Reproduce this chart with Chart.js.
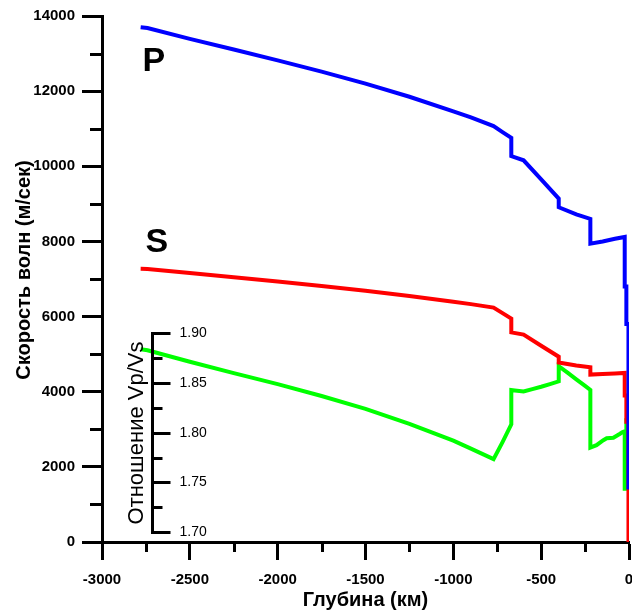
<!DOCTYPE html>
<html>
<head>
<meta charset="utf-8">
<script src="https://cdn.jsdelivr.net/npm/chart.js@4.4.0/dist/chart.umd.min.js"></script>
<style>
html,body{margin:0;padding:0;background:#fff;}
#wrap{width:632px;height:612px;position:relative;}
</style>
</head>
<body>
<div id="wrap"><canvas id="c"></canvas></div>
<script>
// ---- data ----
const depthKm = [-2780, -2741, -2500, -2250, -2000, -1750, -1500, -1250, -1000, -900, -771, -720, -670, -670, -600, -500, -400, -400, -300, -220, -220, -150, -80, -24.4, -24.4, -15, -15, -3, -3, 0];
const vpMs = [13700, 13680, 13390, 13110, 12820, 12520, 12200, 11850, 11460, 11300, 11070, 10910, 10760, 10270, 10160, 9650, 9140, 8910, 8720, 8600, 7940, 8000, 8070, 8120, 6800, 6800, 5800, 5800, 1450, 1450];
const vsMs = [7270, 7266, 7157, 7046, 6933, 6815, 6688, 6550, 6397, 6331, 6240, 6091, 5945, 5580, 5520, 5224, 4932, 4775, 4700, 4650, 4455, 4470, 4485, 4500, 3900, 3900, 3200, 3200, 0, 0];
const ratioDepthKm = [-2780, -2741, -2500, -2250, -2000, -1750, -1500, -1250, -1000, -900, -771, -720, -670, -670, -650, -600, -550, -500, -450, -400, -400, -350, -300, -250, -220, -220, -185, -146, -127, -89, -51, -36, -24.4, -24.4, -15, -15, -3];
const vpVsRatio = [1.884, 1.883, 1.8715, 1.860, 1.849, 1.837, 1.824, 1.809, 1.792, 1.784, 1.7734, 1.7906, 1.8084, 1.843, 1.8426, 1.8415, 1.8439, 1.8463, 1.849, 1.8518, 1.867, 1.8605, 1.8538, 1.8471, 1.843, 1.785, 1.7875, 1.7925, 1.7945, 1.795, 1.799, 1.8008, 1.8015, 1.7436, 1.7436, 1.8125, 1.8125];

const xTicks = [-3000, -2500, -2000, -1500, -1000, -500, 0];
const xMinorTicks = [-2750, -2250, -1750, -1250, -750, -250];
const yTicks = [0, 2000, 4000, 6000, 8000, 10000, 12000, 14000];
const yMinorTicks = [1000, 3000, 5000, 7000, 9000, 11000, 13000];
const ratioTicks = [1.70, 1.75, 1.80, 1.85, 1.90];
const ratioMinorTicks = [1.725, 1.775, 1.825, 1.875];
const ratioTickLabels = ['1.70', '1.75', '1.80', '1.85', '1.90'];

const xTitle = 'Глубина (км)';
const yTitle = 'Скорость волн (м/сек)';
const ratioTitle = 'Отношение Vp/Vs';
const waveLabels = [{text: 'P', x: -2770, y: 12540}, {text: 'S', x: -2752, y: 7730}];
const ratioAxisAt = -2713; // depth where the inner ratio axis stands

const FONT = "'Liberation Sans', Arial, sans-serif";

function pts(xs, ys) { return xs.map((x, i) => ({x: x, y: ys[i]})); }

const decorPlugin = {
  id: 'decor',
  afterDatasetsDraw(chart) {
    const {ctx, chartArea, scales} = chart;
    const xs = scales.x, ys = scales.y, rs = scales.ratio;
    const al = p => Math.round(p) + 0.5;
    ctx.save();
    ctx.strokeStyle = '#000';
    ctx.fillStyle = '#000';
    ctx.lineWidth = 3;
    ctx.lineCap = 'butt';
    // minor ticks of main axes
    yMinorTicks.forEach(v => {
      const p = al(ys.getPixelForValue(v));
      ctx.beginPath(); ctx.moveTo(chartArea.left - 12, p); ctx.lineTo(chartArea.left, p); ctx.stroke();
    });
    xMinorTicks.forEach(v => {
      const p = al(xs.getPixelForValue(v));
      ctx.beginPath(); ctx.moveTo(p, chartArea.bottom); ctx.lineTo(p, chartArea.bottom + 10); ctx.stroke();
    });
    // y axis title
    ctx.save();
    ctx.translate(24, ys.getPixelForValue(7240));
    ctx.rotate(-Math.PI / 2);
    ctx.textAlign = 'center';
    ctx.textBaseline = 'middle';
    ctx.font = "bold 20px " + FONT;
    ctx.fillText(yTitle, 0, 0);
    ctx.restore();
    // inner ratio axis
    const ax = al(xs.getPixelForValue(ratioAxisAt));
    const yTop = al(rs.getPixelForValue(ratioTicks[ratioTicks.length - 1]));
    const yBot = al(rs.getPixelForValue(ratioTicks[0]));
    ctx.beginPath(); ctx.moveTo(ax, yTop - 1.5); ctx.lineTo(ax, yBot + 1.5); ctx.stroke();
    ctx.font = "14px " + FONT;
    ctx.textAlign = 'left';
    ctx.textBaseline = 'middle';
    ratioTicks.forEach((v, i) => {
      const p = al(rs.getPixelForValue(v));
      ctx.beginPath(); ctx.moveTo(ax - 1.5, p); ctx.lineTo(ax + 18, p); ctx.stroke();
      ctx.fillText(ratioTickLabels[i], ax + 27, p);
    });
    ratioMinorTicks.forEach(v => {
      const p = al(rs.getPixelForValue(v));
      ctx.beginPath(); ctx.moveTo(ax - 1.5, p); ctx.lineTo(ax + 10, p); ctx.stroke();
    });
    ctx.save();
    ctx.translate(ax - 16, (yTop + yBot) / 2);
    ctx.rotate(-Math.PI / 2);
    ctx.textAlign = 'center';
    ctx.font = "22px " + FONT;
    ctx.fillText(ratioTitle, 0, 0);
    ctx.restore();
    // P and S labels
    ctx.font = "bold 34px " + FONT;
    ctx.textAlign = 'left';
    ctx.textBaseline = 'alphabetic';
    waveLabels.forEach(l => {
      ctx.fillText(l.text, xs.getPixelForValue(l.x), ys.getPixelForValue(l.y));
    });
    ctx.restore();
  }
};

const tickFont = {family: FONT, size: 15, weight: 'bold'};

new Chart(document.getElementById('c'), {
  type: 'line',
  data: {
    datasets: [
      {label: 'P', data: pts(depthKm, vpMs), borderColor: '#0000ff', yAxisID: 'y'},
      {label: 'S', data: pts(depthKm, vsMs), borderColor: '#ff0000', yAxisID: 'y'},
      {label: 'Vp/Vs', data: pts(ratioDepthKm, vpVsRatio), borderColor: '#00ff00', yAxisID: 'ratio'}
    ]
  },
  options: {
    responsive: true,
    maintainAspectRatio: false,
    animation: false,
    events: [],
    layout: {padding: {top: 15, right: 3, bottom: 0, left: 0}},
    elements: {
      line: {borderWidth: 4, tension: 0, fill: false, borderJoinStyle: 'miter', borderCapStyle: 'butt'},
      point: {radius: 0}
    },
    plugins: {legend: {display: false}, title: {display: false}, tooltip: {enabled: false}},
    scales: {
      x: {
        type: 'linear', position: 'bottom', min: -3000, max: 0,
        afterBuildTicks: s => { s.ticks = xTicks.map(v => ({value: v})); },
        afterFit: s => { s.height = 70; s.paddingLeft = 0; s.paddingRight = 0; },
        ticks: {font: tickFont, color: '#000', padding: 11, maxRotation: 0, autoSkip: false, callback: v => String(v)},
        grid: {drawOnChartArea: false, drawTicks: true, tickLength: 18, tickWidth: 3, tickColor: '#000'},
        border: {display: true, width: 3, color: '#000'},
        title: {display: true, text: xTitle, color: '#000', font: {family: FONT, size: 20, weight: 'bold'}, padding: {top: 0, bottom: 0}}
      },
      y: {
        type: 'linear', position: 'left', min: 0, max: 14000,
        afterBuildTicks: s => { s.ticks = yTicks.map(v => ({value: v})); },
        afterFit: s => { s.width = 102; },
        ticks: {font: tickFont, color: '#000', padding: 7, autoSkip: false, callback: v => String(v)},
        grid: {drawOnChartArea: false, drawTicks: true, tickLength: 20, tickWidth: 3, tickColor: '#000'},
        border: {display: true, width: 3, color: '#000'},
        title: {display: false, text: yTitle}
      },
      ratio: {
        type: 'linear', position: 'right', display: false, min: 1.69, max: 2.2196
      }
    }
  },
  plugins: [decorPlugin]
});
</script>
</body>
</html>
